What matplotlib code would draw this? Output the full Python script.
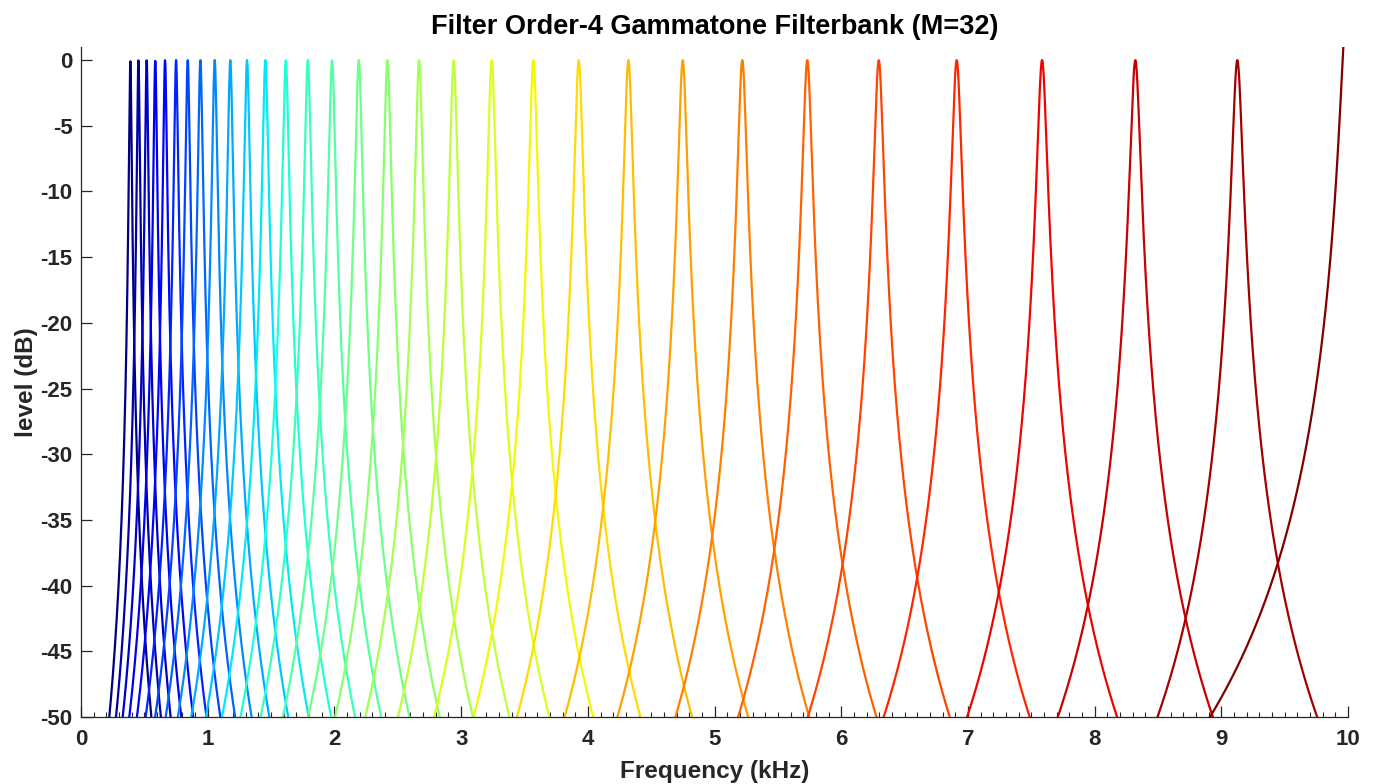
import numpy as np
import matplotlib.pyplot as plt

plt.rcParams['font.family'] = ['Liberation Sans', 'DejaVu Sans']
plt.rcParams['axes.unicode_minus'] = False

# centre frequencies of the 32 bands (kHz)
center_khz = [0.389, 0.453, 0.518, 0.586, 0.663, 0.750, 0.842, 0.942,
              1.055, 1.178, 1.310, 1.455, 1.616, 1.790, 1.981, 2.192,
              2.418, 2.668, 2.941, 3.241, 3.570, 3.928, 4.320, 4.749,
              5.219, 5.732, 6.296, 6.911, 7.585, 8.321, 9.126, 10.000]

# half-width of each band where it falls to -50 dB (kHz)
halfwidth_khz = [0.166, 0.177, 0.189, 0.205, 0.222, 0.240, 0.257, 0.274,
                 0.291, 0.308, 0.325, 0.342, 0.358, 0.373, 0.388, 0.400,
                 0.413, 0.425, 0.440, 0.455, 0.472, 0.487, 0.503, 0.516,
                 0.528, 0.546, 0.560, 0.576, 0.592, 0.612, 0.630, 0.770]

fs_khz = 20.0
floor_db = -50.0
freq = np.linspace(0, fs_khz / 2, 4001)


def band_db(fc, hw):
    b = hw / np.sqrt(10 ** (-floor_db / 20) - 1)
    mag = 1.0 / (1 + ((freq - fc) / b) ** 2)
    # a band sitting on Nyquist overlaps its own mirror image
    if fs_khz / 2 - fc < hw:
        mag += 1.0 / (1 + ((freq - (fs_khz - fc)) / b) ** 2)
    return 20 * np.log10(mag)


colors = plt.get_cmap('jet')(np.linspace(0, 1, len(center_khz)))

fig = plt.figure(figsize=(13.76, 7.84), dpi=100)
ax = fig.add_axes([0.0589, 0.0855, 0.9208, 0.8546])

for fc, hw, c in zip(center_khz, halfwidth_khz, colors):
    ax.plot(freq, band_db(fc, hw), color=c, lw=1.6)

ax.set_xlim(0, 10)
ax.set_ylim(-50, 1)
ax.set_xticks(np.arange(0, 11, 1))
ax.set_xticks(np.arange(0, 10.01, 0.1), minor=True)
ax.set_yticks(np.arange(-50, 1, 5))

ax.spines['top'].set_visible(False)
ax.spines['right'].set_visible(False)
for s in ['left', 'bottom']:
    ax.spines[s].set_color('#262626')
    ax.spines[s].set_linewidth(0.9)

ax.tick_params(which='major', direction='in', length=8, width=0.9,
               color='#262626', labelcolor='#262626', labelsize=16)
ax.tick_params(axis='x', which='major', pad=9)
ax.tick_params(axis='y', which='major', pad=6)
ax.tick_params(which='minor', direction='in', length=3.5, width=0.8,
               color='#262626')
ax.tick_params(axis='y', which='minor', left=False)
for lbl in ax.get_xticklabels() + ax.get_yticklabels():
    lbl.set_fontweight('bold')

ax.set_xlabel('Frequency (kHz)', fontsize=17.5, fontweight='bold',
              color='#262626', labelpad=7)
ax.set_ylabel('level (dB)', fontsize=17.5, fontweight='bold',
              color='#262626', labelpad=2)
ax.set_title('Filter Order-4 Gammatone Filterbank (M=32)', fontsize=19.5,
             fontweight='bold', pad=9)

fig.savefig('out.png', dpi=100)
